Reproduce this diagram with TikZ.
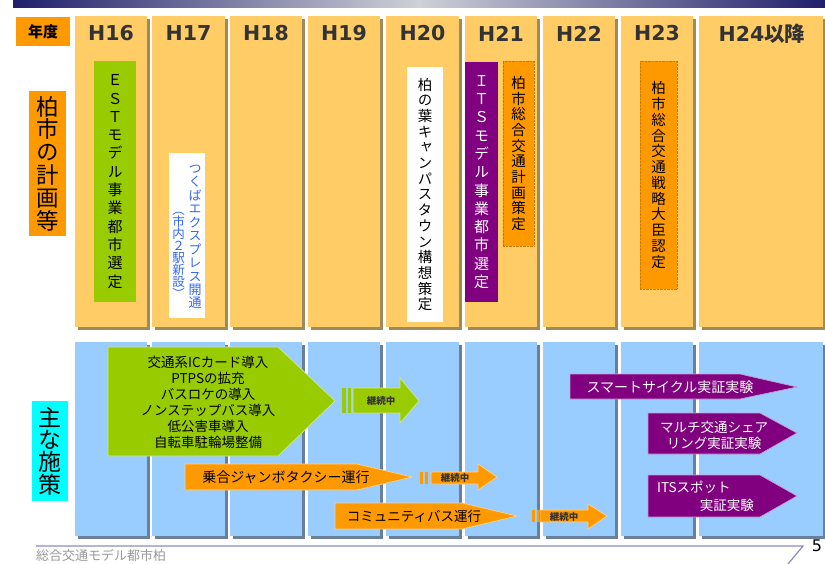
\documentclass[tikz,border=0pt]{standalone}
\usepackage{fontspec}
\setmainfont{Noto Sans CJK JP}
\newfontfamily\jp{Noto Sans CJK JP}
\newfontfamily\jpv[RawFeature=+vert]{Noto Sans CJK JP}
\newfontfamily\hdr{DejaVu Sans}
\definecolor{colOr}{HTML}{FFCC66}
\definecolor{colOrSh}{HTML}{9E8A5C}
\definecolor{colBl}{HTML}{99CCFF}
\definecolor{colBlSh}{HTML}{6A7F99}
\definecolor{orng}{HTML}{FF9900}
\definecolor{orngD}{HTML}{CC7A00}
\definecolor{grn}{HTML}{99CC00}
\definecolor{prp}{HTML}{800080}
\definecolor{cyn}{HTML}{00FFFF}
\definecolor{navyb}{HTML}{1F1F6B}
\definecolor{lgray}{HTML}{D0D0D8}
\definecolor{tblue}{HTML}{3366FF}
\definecolor{foot}{HTML}{8C8CC8}
\definecolor{dtext}{HTML}{333333}
\ExplSyntaxOn
\NewDocumentCommand\vstack{mm}
 {
  \vbox
   {
    \baselineskip=#1\relax
    \lineskiplimit=-100pt\relax
    \lineskip=0pt\relax
    \tl_map_inline:nn {#2} { \hbox_to_wd:nn {1.1em} { \hss ##1 \hss } }
   }
 }
\ExplSyntaxOff
\begin{document}
\begin{tikzpicture}[x=1pt,y=-1pt,
  hdrtext/.style={text=dtext,font=\hdr\bfseries\fontsize{20.5}{23}\selectfont,inner sep=0pt},
  vboxnode/.style={inner sep=0pt,outer sep=0pt},
  arrowtext/.style={inner sep=0pt,font=\jp\fontsize{13.5}{16}\selectfont},
  conttext/.style={inner sep=0pt,font=\jp\bfseries\fontsize{9.5}{11}\selectfont,text=dtext},
  shapeline/.style={line width=0.7pt}
]
\useasboundingbox (0,0) rectangle (825,563);
\fill[white] (0,0) rectangle (825,563);
% top bar
\shade[left color=navyb,right color=navyb,middle color=lgray] (13,0) rectangle (825,7);
% columns
\foreach \x/\w in {75/72,152/73,230/72,308/72,386/73,465/72,543/72,621/72,699/124}{
  \fill[colOrSh] ({\x+2.5},18.5) rectangle ({\x+\w+2.5},329.5);
  \fill[colOr] (\x,16) rectangle ({\x+\w},327);
  \fill[colBlSh] ({\x+2.5},344.5) rectangle ({\x+\w+2.5},538.5);
  \fill[colBl] (\x,342) rectangle ({\x+\w},536);
}
% headers
\node[fill=orng,minimum width=54pt,minimum height=29pt,inner sep=0pt,font=\jp\bfseries\fontsize{15}{17}\selectfont] (nendo) at (43,31.5) {年度};
\node[hdrtext] (h16) at (111,33.5) {H16};
\node[hdrtext] (h17) at (188.5,33.5) {H17};
\node[hdrtext] (h18) at (266,33.5) {H18};
\node[hdrtext] (h19) at (344,33.5) {H19};
\node[hdrtext] (h20) at (422.5,33.5) {H20};
\node[hdrtext] (h21) at (501,33.5) {H21};
\node[hdrtext] (h22) at (579,33.5) {H22};
\node[hdrtext] (h23) at (657,33.5) {H23};
\node[hdrtext] (h24) at (762,33.5) {H24{\jp\bfseries 以降}};
% left labels
\node[fill=orng,minimum width=37pt,minimum height=145pt,vboxnode,font=\jpv\fontsize{22.5}{24}\selectfont] (plan) at (47.5,163.5) {\vstack{22.8pt}{柏市の計画等}};
\node[fill=cyn,minimum width=36pt,minimum height=100pt,vboxnode,font=\jpv\fontsize{23}{24}\selectfont] (measures) at (50,451) {\vstack{22.3pt}{主な施策}};
% plan boxes
\node[fill=grn,minimum width=42pt,minimum height=241pt,vboxnode,font=\jpv\fontsize{15}{18}\selectfont] (est) at (115,181.5) {\vstack{18.3pt}{ＥＳＴモデル事業都市選定}};
\node[fill=white,minimum width=36pt,minimum height=165pt,vboxnode] (tx) at (187,235.5) {};
\node[vboxnode,anchor=north,text=tblue,font=\jpv\fontsize{13}{15}\selectfont] (txa) at (195,165) {\vstack{13.45pt}{つくばエクスプレス開通}};
\node[vboxnode,anchor=north,text=tblue,font=\jpv\fontsize{12.5}{15}\selectfont] (txb) at (178.5,212) {\vstack{12pt}{（市内２駅新設）}};
\node[fill=white,minimum width=36pt,minimum height=255pt,vboxnode,font=\jpv\fontsize{14.5}{17}\selectfont] (kashiwanoha) at (425,194.5) {\vstack{15.7pt}{柏の葉キャンパスタウン構想策定}};
\node[fill=prp,minimum width=33pt,minimum height=240pt,vboxnode,text=white,font=\jpv\fontsize{15}{18}\selectfont] (its) at (481.5,182) {\vstack{18.3pt}{ＩＴＳモデル事業都市選定}};
\node[fill=orng,draw=orngD,densely dotted,minimum width=31pt,minimum height=185pt,vboxnode,font=\jpv\fontsize{14.5}{17}\selectfont] (tplan) at (518.5,153.5) {\vstack{15.7pt}{柏市総合交通計画策定}};
\node[fill=orng,draw=orngD,densely dotted,minimum width=37pt,minimum height=228pt,vboxnode,font=\jpv\fontsize{14.5}{17}\selectfont] (tstrat) at (658.5,175) {\vstack{15.75pt}{柏市総合交通戦略大臣認定}};
% green measures
\draw[shapeline,fill=grn,draw=white!55!grn] (108,347) -- (278,347) -- (335,401) -- (278,456) -- (108,456) -- cycle;
\node[arrowtext,align=center] (gtext) at (208,402) {交通系ICカード導入\\PTPSの拡充\\バスロケの導入\\ノンステップバス導入\\低公害車導入\\自転車駐輪場整備};
\fill[grn] (342,388) rectangle (346,413);
\fill[grn] (348,388) rectangle (351,413);
\draw[shapeline,fill=grn,draw=white!55!grn] (353,388) -- (400,388) -- (400,378) -- (419,401) -- (400,423) -- (400,413) -- (353,413) -- cycle;
\node[conttext] (gcont) at (381,401) {継続中};
% orange: jumbo taxi
\draw[shapeline,fill=orng,draw=white!55!orng] (185,464) -- (357,464) -- (412,477) -- (357,490) -- (185,490) -- cycle;
\node[arrowtext,font=\jp\fontsize{14}{16}\selectfont] (jumbo) at (286,477) {乗合ジャンボタクシー運行};
\fill[orng] (420,472) rectangle (423,484);
\fill[orng] (425,472) rectangle (428,484);
\draw[shapeline,fill=orng,draw=white!55!orng] (431,472) -- (478,472) -- (478,464) -- (497,477) -- (478,490) -- (478,484) -- (431,484) -- cycle;
\node[conttext] (ocont1) at (455,478) {継続中};
% orange: community bus
\draw[shapeline,fill=orng,draw=white!55!orng] (335,503) -- (462,503) -- (517,516) -- (462,529) -- (335,529) -- cycle;
\node[arrowtext] (community) at (414,516) {コミュニティバス運行};
\fill[orng] (532,510) rectangle (534.5,522);
\fill[orng] (536.5,510) rectangle (539,522);
\draw[shapeline,fill=orng,draw=white!55!orng] (540,510) -- (588,510) -- (588,504) -- (607,516) -- (588,529) -- (588,522) -- (540,522) -- cycle;
\node[conttext] (ocont2) at (564,516.5) {継続中};
% purple measures
\draw[shapeline,fill=prp,draw=white!60!prp] (570,374) -- (740,374) -- (797,387) -- (740,399) -- (570,399) -- cycle;
\node[arrowtext,text=white,font=\jp\fontsize{14}{16}\selectfont] (smart) at (670,387) {スマートサイクル実証実験};
\draw[shapeline,fill=prp,draw=white!60!prp] (648,413) -- (760,413) -- (797,433) -- (760,454) -- (648,454) -- cycle;
\node[arrowtext,text=white,align=center] (multi) at (714,435) {マルチ交通シェア\\リング実証実験};
\draw[shapeline,fill=prp,draw=white!60!prp] (648,475) -- (760,475) -- (797,496) -- (760,517) -- (648,517) -- cycle;
\node[arrowtext,text=white,anchor=west] (itsspot) at (657,487) {ITSスポット};
\node[arrowtext,text=white,anchor=east] (itsspot2) at (754,505) {実証実験};
% footer
\coordinate (fa) at (36,546);
\coordinate (fb) at (803,546);
\coordinate (fc) at (788,564);
\draw[foot,line width=1.2pt] (fa) -- (fb) -- (fc);
\node[anchor=west,inner sep=0pt,text=black!40,font=\jp\fontsize{13}{15}\selectfont] (foottext) at (36,555) {総合交通モデル都市柏};
\node[inner sep=0pt,font=\hdr\fontsize{16}{18}\selectfont] (pageno) at (817,546) {5};
\end{tikzpicture}
\end{document}
